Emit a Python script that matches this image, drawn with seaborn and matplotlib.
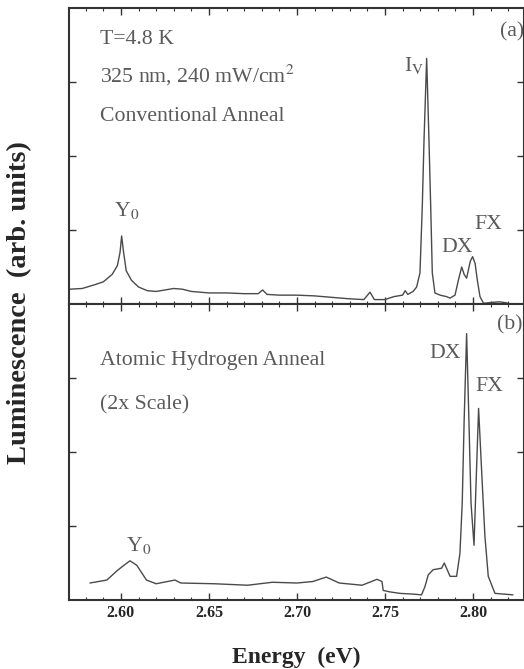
import numpy as np
import pandas as pd
import matplotlib
matplotlib.use("Agg")
import matplotlib.pyplot as plt
import seaborn as sns
from matplotlib.ticker import MultipleLocator, NullFormatter

# Spectrum (a): conventional anneal
energy_a = [2.5705, 2.578, 2.585, 2.590, 2.595, 2.598, 2.5995, 2.6004, 2.6015, 2.603,
            2.606, 2.610, 2.615, 2.620, 2.625, 2.630, 2.635, 2.640, 2.650, 2.660,
            2.670, 2.678, 2.6805, 2.683, 2.690, 2.700, 2.710, 2.720, 2.730, 2.738,
            2.7415, 2.744, 2.750, 2.755, 2.760, 2.7615, 2.763, 2.766, 2.768, 2.7699,
            2.7712, 2.7722, 2.7737, 2.7750, 2.7760, 2.7769, 2.7784, 2.7813, 2.785, 2.787,
            2.7898, 2.7917, 2.7936, 2.7950, 2.7964, 2.7985, 2.7998, 2.8012, 2.8025, 2.804,
            2.806, 2.810, 2.815, 2.818, 2.822]
lum_a = [0.20, 0.21, 0.26, 0.30, 0.40, 0.52, 0.70, 0.92, 0.70, 0.45,
         0.32, 0.23, 0.18, 0.17, 0.19, 0.21, 0.20, 0.17, 0.15, 0.15,
         0.14, 0.14, 0.19, 0.13, 0.12, 0.12, 0.11, 0.09, 0.07, 0.06,
         0.16, 0.06, 0.06, 0.10, 0.12, 0.18, 0.13, 0.17, 0.23, 0.42,
         1.31, 2.22, 3.32, 2.22, 1.31, 0.42, 0.15, 0.12, 0.10, 0.08,
         0.12, 0.32, 0.50, 0.40, 0.35, 0.58, 0.64, 0.55, 0.32, 0.10,
         0.01, 0.02, 0.03, 0.02, 0.00]

# Spectrum (b): atomic hydrogen anneal (2x scale)
energy_b = [2.5824, 2.592, 2.598, 2.6012, 2.6051, 2.609, 2.6145, 2.620, 2.6307, 2.634,
            2.653, 2.672, 2.686, 2.700, 2.709, 2.7167, 2.724, 2.737, 2.7455, 2.7483,
            2.749, 2.7528, 2.7585, 2.766, 2.7708, 2.7727, 2.7746, 2.7774, 2.7822, 2.7837,
            2.787, 2.7889, 2.7907, 2.7926, 2.7939, 2.7950, 2.7964, 2.7977, 2.7989, 2.8006,
            2.8017, 2.8032, 2.8049, 2.8068, 2.8087, 2.8125, 2.8227]
lum_b = [0.23, 0.27, 0.40, 0.46, 0.53, 0.47, 0.27, 0.22, 0.27, 0.23,
         0.22, 0.20, 0.24, 0.23, 0.25, 0.31, 0.23, 0.20, 0.28, 0.25,
         0.13, 0.11, 0.09, 0.08, 0.07, 0.18, 0.34, 0.41, 0.43, 0.50,
         0.32, 0.32, 0.32, 0.63, 1.31, 2.43, 3.60, 2.43, 1.31, 0.74,
         1.53, 2.59, 1.76, 0.86, 0.32, 0.09, 0.07]

x_ticks = [2.60, 2.65, 2.70, 2.75, 2.80]
x_limits = (2.5705, 2.829)

line_col = "#4a4a4a"
text_col = "#5a5a5a"
serif = ["Liberation Serif", "DejaVu Serif"]

sns.set_style("ticks")
plt.rcParams["font.family"] = serif
plt.rcParams["mathtext.fontset"] = "stix"

spec_a = pd.DataFrame({"energy": energy_a, "lum": lum_a})
spec_b = pd.DataFrame({"energy": energy_b, "lum": lum_b})

fig, (ax1, ax2) = plt.subplots(2, 1, sharex=True, figsize=(5.24, 6.69), dpi=100)
fig.subplots_adjust(left=0.1317, right=1.0, top=0.988, bottom=0.1031, hspace=0)

sns.lineplot(data=spec_a, x="energy", y="lum", ax=ax1, color=line_col, lw=1.0, estimator=None)
sns.lineplot(data=spec_b, x="energy", y="lum", ax=ax2, color=line_col, lw=1.0, estimator=None)

for ax in (ax1, ax2):
    ax.set_xlim(*x_limits)
    ax.set_ylim(0, 4)
    ax.set_xticks(x_ticks)
    ax.xaxis.set_minor_locator(MultipleLocator(0.01))
    ax.set_yticks([1, 2, 3])
    ax.yaxis.set_major_formatter(NullFormatter())
    ax.tick_params(which="both", direction="in", top=True, right=True, color="#333333")
    ax.tick_params(which="major", length=5, width=1)
    ax.tick_params(which="minor", length=2.5, width=0.8)
    ax.set_ylabel("")
    for s in ax.spines.values():
        s.set_color("#333333")
        s.set_linewidth(1.5)

ax1.tick_params(axis="x", labelbottom=False)
ax2.set_xticklabels([f"{t:.2f}" for t in x_ticks], fontsize=11.5, fontweight="bold")
ax2.set_xlabel("Energy  (eV)", fontsize=17, fontweight="bold", labelpad=19)
fig.text(0.038, 0.548, "Luminescence  (arb. units)", rotation=90, ha="center", va="center",
         fontsize=20.5, fontweight="bold")

fs = 15.7
ax1.text(2.588, 3.58, "T=4.8 K", fontsize=fs, color=text_col, va="center")
ax1.text(2.588, 3.09, "325 nm, 240 mW/cm$^2$", fontsize=fs, color=text_col, va="center")
ax1.text(2.588, 2.53, "Conventional Anneal", fontsize=fs, color=text_col, va="center")
ax1.text(2.7665, 3.23, "I$_\\mathrm{V}$", fontsize=fs, color=text_col, ha="center", va="center")
ax1.text(2.6032, 1.27, "Y$_0$", fontsize=fs, color=text_col, ha="center", va="center")
ax1.text(2.7907, 0.77, "DX", fontsize=fs, color=text_col, ha="center", va="center")
ax1.text(2.8087, 1.07, "FX", fontsize=fs, color=text_col, ha="center", va="center")
ax1.text(2.822, 3.68, "(a)", fontsize=fs, color=text_col, ha="center", va="center")

ax2.text(2.588, 3.24, "Atomic Hydrogen Anneal", fontsize=fs, color=text_col, va="center")
ax2.text(2.588, 2.64, "(2x Scale)", fontsize=fs, color=text_col, va="center")
ax2.text(2.784, 3.33, "DX", fontsize=fs, color=text_col, ha="center", va="center")
ax2.text(2.809, 2.88, "FX", fontsize=fs, color=text_col, ha="center", va="center")
ax2.text(2.6099, 0.74, "Y$_0$", fontsize=fs, color=text_col, ha="center", va="center")
ax2.text(2.821, 3.72, "(b)", fontsize=fs, color=text_col, ha="center", va="center")

fig.savefig("out.png", dpi=100)
